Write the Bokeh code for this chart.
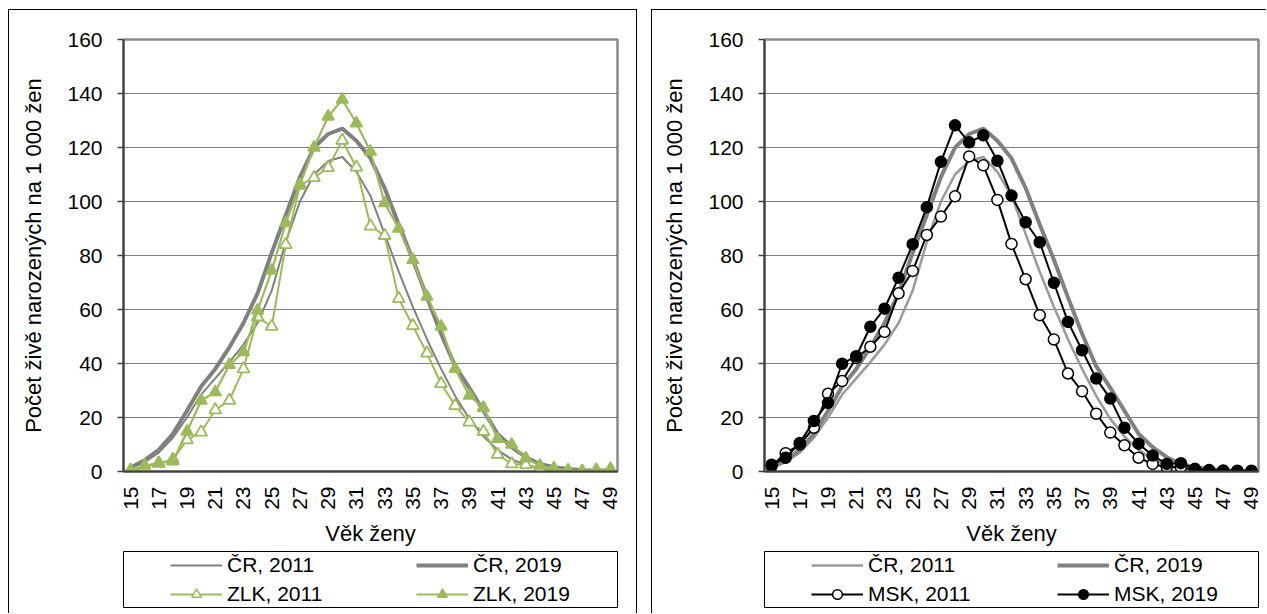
import math
from bokeh.plotting import figure
from bokeh.models import (Range1d, FixedTicker, Legend, LegendItem, ColumnDataSource, Spacer)
from bokeh.layouts import row, column
from bokeh.embed import file_html
from bokeh.resources import INLINE

# ---------------- data ----------------
ages = list(range(15, 50))
x_ticks = list(range(15, 50, 2))
y_ticks = [0, 20, 40, 60, 80, 100, 120, 140, 160]
grid_ticks = [20, 40, 60, 80, 100, 120, 140]

cr_2011 = [1.2, 3.5, 7.0, 12.5, 20.0, 28.5, 34.5, 40.5, 47.0, 55.0,
           67.0, 85.0, 100.0, 110.0, 115.0, 116.5, 111.0, 102.0, 88.0, 74.0,
           61.0, 49.0, 38.0, 28.0, 19.5, 13.0, 8.0, 4.5, 2.4, 1.2,
           0.6, 0.3, 0.2, 0.1, 0.1]
cr_2019 = [1.5, 4.2, 8.0, 14.0, 22.5, 31.5, 38.0, 46.0, 55.0, 66.0,
           81.0, 95.0, 109.0, 120.0, 125.0, 127.0, 122.5, 116.0, 105.0, 91.5,
           78.5, 64.5, 51.0, 39.0, 31.0, 22.5, 14.0, 9.0, 5.3, 2.8,
           1.6, 0.9, 0.5, 0.3, 0.2]
zlk_2011 = [0.4, 1.5, 3.0, 4.5, 11.7, 14.6, 22.8, 26.3, 38.0, 57.2,
            53.7, 84.0, 106.0, 108.8, 112.5, 122.6, 112.7, 90.9, 87.4, 64.0,
            54.0, 43.8, 32.5, 24.4, 18.3, 14.8, 6.3, 2.8, 2.5, 1.0,
            0.5, 0.2, 0.0, 0.0, 0.0]
zlk_2019 = [0.4, 2.2, 3.1, 3.8, 14.8, 26.3, 29.4, 39.5, 44.2, 59.6,
            74.4, 92.0, 106.3, 120.0, 131.5, 137.8, 129.0, 118.5, 99.4, 90.0,
            78.4, 64.8, 53.7, 38.0, 28.1, 23.6, 12.1, 10.0, 4.9, 2.2,
            1.2, 0.4, 0.1, 0.6, 1.0]
msk_2011 = [2.0, 6.8, 10.0, 16.2, 28.8, 33.5, 42.0, 46.2, 51.7, 66.0,
            74.3, 87.6, 94.4, 101.9, 116.7, 113.4, 100.6, 84.3, 71.2, 57.9,
            48.9, 36.3, 29.7, 21.4, 14.4, 9.7, 5.1, 2.8, 1.6, 1.6,
            0.6, 0.3, 0.2, 0.1, 0.1]
msk_2019 = [2.5, 5.1, 10.6, 18.7, 25.4, 39.9, 42.7, 53.6, 60.3, 71.8,
            84.2, 97.9, 114.7, 128.2, 121.9, 124.5, 115.1, 102.2, 92.3, 84.9,
            69.9, 55.4, 44.9, 34.4, 27.0, 16.2, 10.3, 5.9, 2.8, 3.1,
            1.0, 0.6, 0.4, 0.3, 0.3]

x_title = "Věk ženy"
y_title = "Počet živě narozených na 1 000 žen"
lbl_cr11, lbl_cr19 = "ČR, 2011", "ČR, 2019"
lbl_zlk11, lbl_zlk19 = "ZLK, 2011", "ZLK, 2019"
lbl_msk11, lbl_msk19 = "MSK, 2011", "MSK, 2019"

# ---------------- style ----------------
FONT = "Liberation Sans"
GREEN = "#9BBB59"
GREY_THIN = "#9a9a9a"
GREY_THICK = "#808080"
PLOT_H = 540
LEG_H = 63


def plot_figure(width, mb_left, mb_right):
    p = figure(width=width, height=PLOT_H, x_range=Range1d(14.5, 49.5), y_range=Range1d(0, 160),
               output_backend="svg", toolbar_location=None,
               min_border_left=mb_left, min_border_right=mb_right,
               min_border_top=29, min_border_bottom=79,
               background_fill_color="white", border_fill_color="white")
    p.outline_line_color = "#8a8a8a"
    p.outline_line_width = 2.5

    xa = p.xaxis[0]
    xa.ticker = FixedTicker(ticks=x_ticks)
    xa.major_label_orientation = math.pi / 2
    xa.major_tick_out = 0
    xa.major_tick_in = 0
    xa.minor_tick_out = 0
    xa.minor_tick_in = 0
    xa.axis_line_color = "#404040"
    xa.axis_line_width = 2
    xa.major_label_standoff = 15
    xa.major_label_text_font = FONT
    xa.major_label_text_font_size = "21px"
    xa.major_label_text_color = "black"
    xa.axis_label = x_title
    xa.axis_label_text_font = FONT
    xa.axis_label_text_font_size = "22px"
    xa.axis_label_text_font_style = "normal"
    xa.axis_label_text_color = "black"
    xa.axis_label_standoff = 8

    ya = p.yaxis[0]
    ya.ticker = FixedTicker(ticks=y_ticks)
    ya.major_tick_out = 6
    ya.major_tick_in = 0
    ya.minor_tick_out = 0
    ya.minor_tick_in = 0
    ya.major_tick_line_color = "#404040"
    ya.major_tick_line_width = 1.5
    ya.axis_line_color = "#404040"
    ya.axis_line_width = 2
    ya.major_label_standoff = 15
    ya.major_label_text_font = FONT
    ya.major_label_text_font_size = "21px"
    ya.major_label_text_color = "black"
    ya.axis_label = y_title
    ya.axis_label_text_font = FONT
    ya.axis_label_text_font_size = "22px"
    ya.axis_label_text_font_style = "normal"
    ya.axis_label_text_color = "black"
    ya.axis_label_standoff = 18

    p.xgrid.visible = False
    p.ygrid.ticker = FixedTicker(ticks=grid_ticks)
    p.ygrid.grid_line_color = "#000000"
    p.ygrid.grid_line_width = 1
    p.ygrid.grid_line_dash = "1 1"
    return p


def legend_figure(width, mb_left, mb_right, src, entries):
    """Small figure whose frame is the legend box.  Its renderers use the real
    series, but the ranges lie outside the data, so only the legend glyphs show."""
    q = figure(width=width, height=LEG_H, x_range=Range1d(0, 1), y_range=Range1d(-10, -9),
               output_backend="svg", toolbar_location=None,
               x_axis_location=None, y_axis_location=None,
               min_border_left=mb_left, min_border_right=mb_right,
               min_border_top=1, min_border_bottom=6,
               background_fill_color="white", border_fill_color="white")
    q.xgrid.visible = False
    q.ygrid.visible = False
    q.outline_line_color = "black"
    q.outline_line_width = 1
    items = []
    for label, col, st in entries:
        rs = [q.line("age", col, source=src, line_color=st["color"], line_width=st["lw"])]
        if st.get("marker"):
            rs.append(q.scatter("age", col, source=src, marker=st["marker"], size=11,
                                fill_color=st["fill"], line_color=st["color"], line_width=1.5))
        items.append(LegendItem(label=label, renderers=rs))
    lg = Legend(items=items, location=(47, 1), orientation="horizontal", ncols=2,
                padding=0, margin=0, spacing=5,
                glyph_width=52, glyph_height=24, label_height=24, label_width=184,
                label_standoff=5,
                label_text_font=FONT, label_text_font_size="21px",
                label_text_color="black",
                border_line_alpha=0, background_fill_alpha=0)
    q.add_layout(lg, "center")
    return q


# ---------------- left panel: ZLK ----------------
src_l = ColumnDataSource(dict(age=ages, cr11=cr_2011, cr19=cr_2019, r11=zlk_2011, r19=zlk_2019))
p1 = plot_figure(627, 114, 12)
p1.line("age", "cr11", source=src_l, line_color=GREY_THICK, line_width=2)
p1.line("age", "cr19", source=src_l, line_color=GREY_THICK, line_width=4)
p1.line("age", "r11", source=src_l, line_color=GREEN, line_width=2)
p1.scatter("age", "r11", source=src_l, marker="triangle", size=12,
           fill_color="white", line_color=GREEN, line_width=1.8)
p1.line("age", "r19", source=src_l, line_color=GREEN, line_width=2.2)
p1.scatter("age", "r19", source=src_l, marker="triangle", size=12,
           fill_color=GREEN, line_color=GREEN, line_width=1.5)
q1 = legend_figure(627, 112, 19, src_l, [
    (lbl_cr11, "cr11", dict(color=GREY_THICK, lw=2)),
    (lbl_cr19, "cr19", dict(color=GREY_THICK, lw=4)),
    (lbl_zlk11, "r11", dict(color=GREEN, lw=2, marker="triangle", fill="white")),
    (lbl_zlk19, "r19", dict(color=GREEN, lw=2.2, marker="triangle", fill=GREEN)),
])
panel1 = column(p1, q1, styles={"border-top": "1px solid #000", "border-left": "1px solid #000",
                                "border-right": "1px solid #000"})

# ---------------- right panel: MSK ----------------
src_r = ColumnDataSource(dict(age=ages, cr11=cr_2011, cr19=cr_2019, r11=msk_2011, r19=msk_2019))
p2 = plot_figure(614, 112, 2)
p2.line("age", "cr11", source=src_r, line_color=GREY_THIN, line_width=2.5)
p2.line("age", "cr19", source=src_r, line_color=GREY_THICK, line_width=4)
p2.line("age", "r11", source=src_r, line_color="black", line_width=2)
p2.scatter("age", "r11", source=src_r, marker="circle", size=11,
           fill_color="white", line_color="black", line_width=1.5)
p2.line("age", "r19", source=src_r, line_color="black", line_width=2)
p2.scatter("age", "r19", source=src_r, marker="circle", size=11,
           fill_color="black", line_color="black", line_width=1.5)
q2 = legend_figure(614, 111, 8, src_r, [
    (lbl_cr11, "cr11", dict(color=GREY_THIN, lw=2.5)),
    (lbl_cr19, "cr19", dict(color=GREY_THICK, lw=4)),
    (lbl_msk11, "r11", dict(color="black", lw=2, marker="circle", fill="white")),
    (lbl_msk19, "r19", dict(color="black", lw=2, marker="circle", fill="black")),
])
panel2 = column(p2, q2, styles={"border-top": "1px solid #000", "border-left": "1px solid #000"})

page = column(Spacer(height=9), row(Spacer(width=8), panel1, Spacer(width=14), panel2))
open("out.html", "w").write(file_html(page, INLINE))
